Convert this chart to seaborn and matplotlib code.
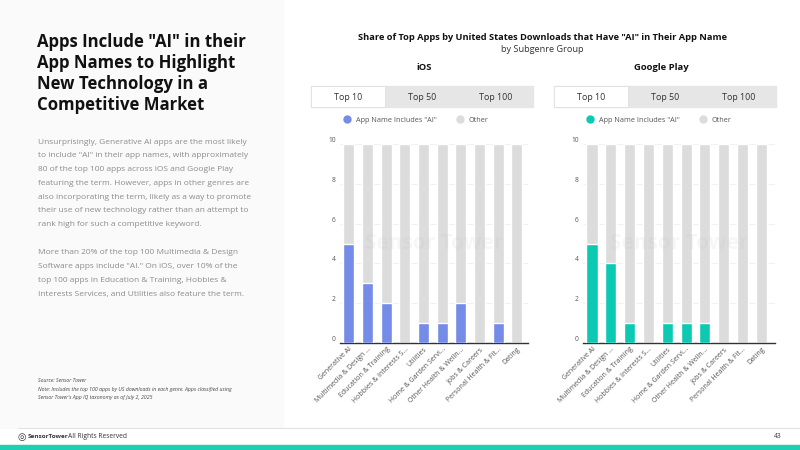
import pandas as pd
import matplotlib.pyplot as plt
import seaborn as sns
from matplotlib.patches import Rectangle
from matplotlib.lines import Line2D

sns.set_theme(style="white")
plt.rcParams["font.family"] = ["Open Sans", "DejaVu Sans"]

# data (Top 10 tab)
genres = ["Generative AI", "Multimedia & Design ...", "Education & Training",
          "Hobbies & Interests S...", "Utilities", "Home & Garden Servi...",
          "Other Health & Welln...", "Jobs & Careers", "Personal Health & Fit...",
          "Dating"]
ios_ai = [5, 3, 2, 0, 1, 1, 2, 0, 1, 0]
ios_other = [5, 7, 8, 10, 9, 9, 8, 10, 9, 10]
gp_ai = [5, 4, 1, 0, 1, 1, 1, 0, 0, 0]
gp_other = [5, 6, 9, 10, 9, 9, 9, 10, 10, 10]
y_ticks = [0, 2, 4, 6, 8, 10]

BLUE = "#758be8"
TEAL = "#0cc9b3"
GREY = "#dcdcdc"

W, H = 800, 450


def fx(px):
    return px / W


def fy(py):
    return 1 - py / H


fig = plt.figure(figsize=(8, 4.5), dpi=100)

# left text panel background
fig.patches.append(Rectangle((0, fy(428)), fx(283), 428 / H, transform=fig.transFigure,
                             color="#fafafa", zorder=0))

title_lines = ['Apps Include "AI" in their', "App Names to Highlight",
               "New Technology in a", "Competitive Market"]
for i, t in enumerate(title_lines):
    fig.text(fx(37), fy(42 + 21 * i), t, fontsize=12.1, fontweight="bold",
             color="#111111", va="center", ha="left")

para1 = ["Unsurprisingly, Generative AI apps are the most likely",
         "to include \"AI\" in their app names, with approximately",
         "80 of the top 100 apps across iOS and Google Play",
         "featuring the term. However, apps in other genres are",
         "also incorporating the term, likely as a way to promote",
         "their use of new technology rather than an attempt to",
         "rank high for such a competitive keyword."]
para2 = ["More than 20% of the top 100 Multimedia & Design",
         "Software apps include \"AI.\" On iOS, over 10% of the",
         "top 100 apps in Education & Training, Hobbies &",
         "Interests Services, and Utilities also feature the term."]
for i, t in enumerate(para1):
    fig.text(fx(38), fy(142 + 13.8 * i), t, fontsize=6.0, color="#8c8c8c",
             va="center", ha="left")
for i, t in enumerate(para2):
    fig.text(fx(38), fy(253 + 13.8 * i), t, fontsize=6.0, color="#8c8c8c",
             va="center", ha="left")

src = ["Source: Sensor Tower",
       "Note: Includes the top 100 apps by US downloads in each genre. Apps classified using",
       "Sensor Tower's App IQ taxonomy as of July 2, 2025"]
for i, t in enumerate(src):
    fig.text(fx(38), fy(381 + 8 * i), t, fontsize=3.7, style="italic", color="#444444",
             va="center", ha="left")

# chart headings
fig.text(fx(542), fy(37), 'Share of Top Apps by United States Downloads that Have "AI" in Their App Name',
         fontsize=6.7, fontweight="bold", color="#111111", ha="center", va="center")
fig.text(fx(542), fy(50), "by Subgenre Group", fontsize=6.6, color="#333333",
         ha="center", va="center")


def panel(ax_rect, xlim, ai, other, color, name, name_x, tab_x0, tab_x1, legend_x):
    ax = fig.add_axes(ax_rect)
    df = pd.DataFrame({"genre": genres, "ai": ai, "other": other})
    df["total"] = df["ai"] + df["other"]
    sns.barplot(data=df, x="genre", y="total", color=GREY, width=0.59,
                saturation=1, ax=ax, zorder=2)
    sns.barplot(data=df, x="genre", y="ai", color=color, width=0.59,
                saturation=1, ax=ax, zorder=3)
    ax.set_xlim(*xlim)
    ax.set_ylim(0, 10)
    ax.set_yticks(y_ticks)
    ax.set_xlabel("")
    ax.set_ylabel("")
    ax.grid(axis="y", color="#f2f2f2", lw=0.8, zorder=0)
    for s in ["top", "right", "left"]:
        ax.spines[s].set_visible(False)
    ax.spines["bottom"].set_color("#333333")
    ax.spines["bottom"].set_linewidth(1)
    ax.tick_params(axis="both", length=0, labelsize=4.8, labelcolor="#555555", pad=2)
    ax.tick_params(axis="y", pad=3)
    for lab in ax.get_yticklabels():
        lab.set_va("bottom")
    ax.set_xticks(range(len(genres)))
    ax.set_xticklabels(genres, rotation=45, ha="right", rotation_mode="anchor",
                       fontsize=5, color="#555555")
    ax.text(0.5, 0.5, "Sensor Tower", transform=ax.transAxes, fontsize=15,
            color="#bbbbbb", alpha=0.12, ha="center", va="center", zorder=4,
            fontweight="bold")

    fig.text(fx(name_x), fy(68), name, fontsize=6.8, fontweight="bold", color="#111111",
             ha="center", va="center")

    # tabs
    tw = (tab_x1 - tab_x0) / 3
    fig.patches.append(Rectangle((fx(tab_x0), fy(107)), fx(tab_x1 - tab_x0), 21 / H,
                                 transform=fig.transFigure, color="#e6e6e6", zorder=1))
    fig.patches.append(Rectangle((fx(tab_x0), fy(107)), fx(tw), 21 / H,
                                 transform=fig.transFigure, facecolor="white",
                                 edgecolor="#e0e0e0", lw=0.6, zorder=1))
    for i, t in enumerate(["Top 10", "Top 50", "Top 100"]):
        fig.text(fx(tab_x0 + tw * (i + 0.5)), fy(97), t, fontsize=6.4, color="#333333",
                 ha="center", va="center")

    handles = [Line2D([], [], marker="o", ls="", color=color, markersize=5),
               Line2D([], [], marker="o", ls="", color=GREY, markersize=5)]
    fig.legend(handles, ['App Name Includes "AI"', "Other"], loc="center",
               bbox_to_anchor=(fx(legend_x), fy(120)), ncol=2, frameon=False,
               fontsize=5.2, labelcolor="#555555", handletextpad=0.2,
               columnspacing=2.2, borderpad=0)
    return ax


panel([fx(340), fy(343), fx(188), 199 / H], (-0.48, 9.59), ios_ai, ios_other, BLUE,
      "iOS", 424, 311, 533, 414)
panel([fx(583), fy(343), fx(192), 199 / H], (-0.48, 9.73), gp_ai, gp_other, TEAL,
      "Google Play", 661, 554, 776, 657)

# footer
fig.add_artist(Line2D([fx(18), 1], [fy(428), fy(428)], transform=fig.transFigure,
                      color="#e4e4e4", lw=0.8))
fig.patches.append(Rectangle((0, 0), 1, 5 / H, transform=fig.transFigure,
                             color="#1ccfb5", zorder=1))
fig.text(fx(18), fy(437), "\u25CE", fontsize=7, color="#333333", ha="left", va="center",
         family=["DejaVu Sans"])
fig.text(fx(28), fy(437), "SensorTower", fontsize=4.6, fontweight="bold", color="#333333",
         ha="left", va="center")
fig.text(fx(68), fy(437), "All Rights Reserved", fontsize=4.8, color="#333333",
         ha="left", va="center")
fig.text(fx(782), fy(437), "43", fontsize=4.8, color="#333333", ha="right", va="center")

fig.savefig("out.png", dpi=100)
